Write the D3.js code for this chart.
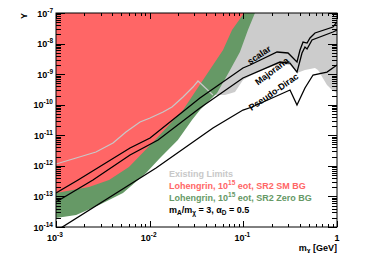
<!DOCTYPE html>
<html>
<head>
<meta charset="utf-8">
<script src="https://cdn.jsdelivr.net/npm/d3@7"></script>
<style>
body { margin: 0; background: #fff; }
text { font-family: "Liberation Sans", Arial, Helvetica, sans-serif; font-weight: bold; }
</style>
</head>
<body>
<svg id="chart" width="374" height="253"></svg>
<script>

// curves, [m_chi (GeV), Y]
var scalar = [
  [1e-3, 1.29e-13], [1.72e-3, 3.44e-13], [6.17e-3, 3.84e-12], [1.01e-2, 8.15e-12],
  [3.44e-2, 1.66e-10], [9.91e-2, 1.59e-9], [0.118, 1.99e-9], [0.229, 5.30e-9],
  [0.300, 4.92e-9], [0.374, 2.49e-9], [0.403, 6.17e-9], [0.434, 1.12e-8],
  [0.479, 1.04e-8], [0.515, 1.52e-8], [0.582, 2.22e-8], [0.906, 3.48e-8], [1, 5.08e-8]
]
var majorana = [
  [1e-3, 6.58e-14], [2.48e-3, 3.44e-13], [6.17e-3, 2.26e-12], [1.23e-2, 7.01e-12],
  [3.44e-2, 7.80e-11], [9.91e-2, 7.48e-10], [0.246, 2.49e-9], [0.315, 2.31e-9],
  [0.374, 1.17e-9], [0.423, 4.92e-9], [0.455, 7.73e-9], [0.479, 6.64e-9],
  [0.541, 1.31e-8], [0.906, 2.39e-8], [1, 2.78e-8]
]
var pseudoDirac = [
  [1e-3, 7.39e-15], [1.17e-2, 8.51e-13], [4.74e-2, 1.73e-11], [9.91e-2, 6.71e-11],
  [0.124, 8.41e-11], [0.315, 3.03e-10], [0.374, 9.79e-11], [0.455, 3.52e-10],
  [0.555, 9.38e-10], [0.782, 1.17e-9], [1, 1.99e-9]
]
// Lohengrin SM BG reach (lower edge of red region)
var smBG = [
  [1e-3, 1.29e-13], [2.25e-3, 2.03e-13], [3.68e-3, 3.44e-13], [6.01e-3, 9.18e-13],
  [1.09e-2, 6.03e-12], [2.27e-2, 6.71e-11], [3.71e-2, 6.43e-10], [6.07e-2, 6.17e-9],
  [7.57e-2, 2.78e-8], [0.102, 1e-7]
]
// Lohengrin zero BG reach (lower edge of green region)
var zeroBG = [
  [1e-3, 1.97e-14], [1.64e-3, 2.47e-14], [2.88e-3, 5.25e-14], [5.19e-3, 1.29e-13],
  [9.14e-3, 5.83e-13], [1.29e-2, 1.81e-12], [2.00e-2, 7.01e-12], [2.83e-2, 3.16e-11],
  [3.44e-2, 6.71e-11], [5.24e-2, 2.42e-10], [7.03e-2, 1.17e-9], [9.20e-2, 5.30e-9],
  [0.112, 2.78e-8], [0.133, 1e-7]
]
// existing limits: visible line, then the rest of the lower edge of the grey region
var existingLine = [
  [1e-3, 1.15e-12], [1.64e-3, 1.81e-12], [2.67e-3, 2.84e-12], [4.06e-3, 5.60e-12],
  [5.58e-3, 1.28e-11], [7.89e-3, 2.72e-11], [1.01e-2, 3.67e-11], [1.39e-2, 5.78e-11],
  [1.73e-2, 8.41e-11], [2.27e-2, 1.79e-10], [2.90e-2, 3.79e-10], [3.28e-2, 5.97e-10],
  [4.74e-2, 2.08e-10]
]
var existingEdge = [
  [6.37e-2, 2.08e-10], [8.15e-2, 2.61e-10], [9.91e-2, 6.43e-10], [0.118, 8.69e-10],
  [0.170, 1.47e-9], [0.246, 2.15e-9], [0.315, 1.99e-9], [0.374, 1.09e-9],
  [0.455, 1.36e-9], [0.582, 1.59e-9], [0.627, 1.36e-9], [0.782, 4.42e-10],
  [0.885, 3.03e-10], [1, 2.42e-10]
]

var yMajor = [1e-14, 1e-13, 1e-12, 1e-11, 1e-10, 1e-9, 1e-8, 1e-7]
var xMajor = [1e-3, 1e-2, 1e-1, 1]
var xLabels = ["10|-3", "10|-2", "10|-1", "1|"]

var RED = "#ff6666", GREEN = "#669966", GREY = "#cccccc"

var svg = d3.select("#chart")
var L = 56, R = 337, T = 13, B = 227

var x = d3.scaleLog().domain([1e-3, 1]).range([L, R])
var y = d3.scaleLog().domain([1e-14, 1e-7]).range([B, T])

var line = d3.line().x(function(d){ return x(d[0]) }).y(function(d){ return y(d[1]) })

svg.append("clipPath").attr("id", "plot")
  .append("rect").attr("x", L).attr("y", T).attr("width", R - L).attr("height", B - T)

var plot = svg.append("g").attr("clip-path", "url(#plot)")

var topLeft = [x.domain()[0], y.domain()[1]]
var topRight = [x.domain()[1], y.domain()[1]]

// regions, back to front
plot.append("path")
  .attr("d", line(existingLine.concat(existingEdge, [topRight, topLeft])) + "Z")
  .attr("fill", GREY)
plot.append("path")
  .attr("d", line(zeroBG.concat([topLeft])) + "Z")
  .attr("fill", GREEN)
plot.append("path")
  .attr("d", line(smBG.concat([topLeft])) + "Z")
  .attr("fill", RED)
plot.append("path")
  .attr("d", line(existingLine))
  .attr("fill", "none").attr("stroke", "#c8c8c8").attr("stroke-width", 1.2)

;[scalar, majorana, pseudoDirac].forEach(function(c){
  plot.append("path").attr("d", line(c))
    .attr("fill", "none").attr("stroke", "#000").attr("stroke-width", 1.3)
})

// curve names, sitting on (or just under) their curve
function pixelOn(curve, m) {
  var px = x(m)
  for (var i = 1; i < curve.length; i++) {
    var x0 = x(curve[i-1][0]), x1 = x(curve[i][0])
    if (px <= x1) {
      var f = (px - x0) / (x1 - x0)
      var y0 = y(curve[i-1][1]), y1 = y(curve[i][1])
      return [px, y0 + f * (y1 - y0)]
    }
  }
  return [px, y(curve[curve.length-1][1])]
}
var curveNames = [
  {t: "scalar", c: scalar, m: 0.158, a: -34, dy: -2},
  {t: "Majorana", c: majorana, m: 0.186, a: -37, dy: 8.5},
  {t: "Pseudo-Dirac", c: pseudoDirac, m: 0.226, a: -35, dy: -2}
]
curveNames.forEach(function(c){
  var p = pixelOn(c.c, c.m)
  svg.append("text")
    .attr("transform", "translate(" + p[0] + "," + p[1] + ") rotate(" + c.a + ")")
    .attr("text-anchor", "middle").attr("dy", c.dy)
    .attr("font-size", 9).text(c.t)
})

// frame and ticks
svg.append("rect").attr("x", L).attr("y", T).attr("width", R - L).attr("height", B - T)
  .attr("fill", "none").attr("stroke", "#000").attr("stroke-width", 1)

var ticks = svg.append("g").attr("stroke", "#000").attr("stroke-width", 1)
var yMinor = [], xMinor = []
yMajor.slice(0, -1).forEach(function(v){ for (var k = 2; k < 10; k++) yMinor.push(v * k) })
xMajor.slice(0, -1).forEach(function(v){ for (var k = 2; k < 10; k++) xMinor.push(v * k) })

function yTick(v, len) {
  var p = Math.round(y(v)) + 0.5
  ticks.append("line").attr("x1", L).attr("x2", L + len).attr("y1", p).attr("y2", p)
  ticks.append("line").attr("x1", R).attr("x2", R - len).attr("y1", p).attr("y2", p)
}
function xTick(v, len) {
  var p = Math.round(x(v)) + 0.5
  ticks.append("line").attr("y1", B).attr("y2", B - len).attr("x1", p).attr("x2", p)
  ticks.append("line").attr("y1", T).attr("y2", T + len).attr("x1", p).attr("x2", p)
}
yMajor.forEach(function(v){ yTick(v, 9) })
yMinor.forEach(function(v){ yTick(v, 5) })
xMajor.forEach(function(v){ xTick(v, 6) })
xMinor.forEach(function(v){ xTick(v, 3) })

// tick labels
yMajor.forEach(function(v){
  var t = svg.append("text").attr("x", 53).attr("y", y(v) + 3.5)
    .attr("text-anchor", "end").attr("font-size", 9)
  t.append("tspan").text("10")
  t.append("tspan").attr("dy", -4).attr("font-size", 6.5).text(Math.round(Math.log10(v)))
})
xMajor.forEach(function(v, i){
  var parts = xLabels[i].split("|")
  var t = svg.append("text").attr("x", x(v) - (parts[1] ? 1 : 0)).attr("y", 241)
    .attr("text-anchor", "middle").attr("font-size", 9)
  t.append("tspan").text(parts[0])
  if (parts[1]) t.append("tspan").attr("dy", -4).attr("font-size", 6.5).text(parts[1])
})

// axis titles
var xt = svg.append("text").attr("x", R).attr("y", 251)
  .attr("text-anchor", "end").attr("font-size", 9)
xt.append("tspan").text("m")
xt.append("tspan").attr("dy", 2).attr("font-size", 6.5).text("χ")
xt.append("tspan").attr("dy", -2).text(" [GeV]")

svg.append("text").attr("transform", "translate(27," + T + ") rotate(-90)")
  .attr("text-anchor", "end").attr("font-size", 9).attr("font-weight", "normal").text("Υ")

// legend
var legend = [
  {parts: [["Existing Limits"]], color: "#c8c8c8"},
  {parts: [["Lohengrin, 10"], ["15", "sup"], [" eot, SR2 SM BG"]], color: RED},
  {parts: [["Lohengrin, 10"], ["15", "sup"], [" eot, SR2 Zero BG"]], color: GREEN},
  {parts: [["m"], ["A", "sub"], ["/m"], ["χ", "sub"], [" = 3, α"], ["D", "sub"], [" = 0.5"]], color: "#000"}
]
legend.forEach(function(d, i){
  var t = svg.append("text").attr("x", 169).attr("y", 176.5 + i * 12)
    .attr("font-size", 9).attr("fill", d.color)
  var shift = 0
  d.parts.forEach(function(p){
    var target = p[1] == "sup" ? -4 : p[1] == "sub" ? 2 : 0
    var s = t.append("tspan").attr("dy", target - shift).text(p[0])
    if (p[1]) s.attr("font-size", 6.5)
    shift = target
  })
})

</script>
</body>
</html>
